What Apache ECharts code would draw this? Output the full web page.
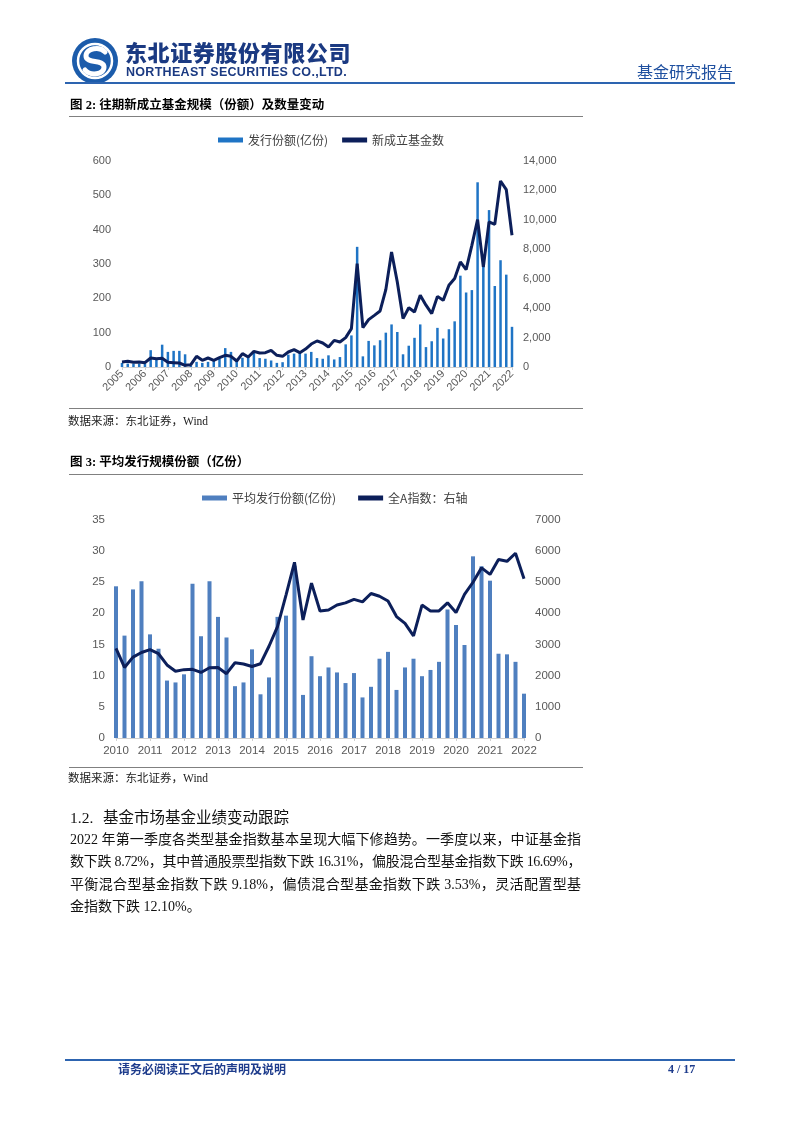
<!DOCTYPE html>
<html><head><meta charset="utf-8">
<script src="https://cdn.jsdelivr.net/npm/echarts@6.0.0/dist/echarts.min.js"></script>
<style>
html,body{margin:0;padding:0;background:#fff;}
#page{position:relative;width:802px;height:1133px;overflow:hidden;background:#fff;}
#chart{position:absolute;left:0;top:0;width:802px;height:1133px;}
.t{position:absolute;white-space:nowrap;font-family:'Liberation Serif','Noto Sans CJK SC',serif;color:#000;}
.ln{position:absolute;}
.p{position:absolute;left:70px;width:511px;font-size:14px;line-height:20px;height:20px;white-space:nowrap;font-family:'Liberation Serif','Noto Sans CJK SC',serif;color:#111;}
.j{text-align:justify;text-align-last:justify;}
</style></head>
<body>
<div id="page">
<div id="chart"></div>

<svg class="ln" style="left:70px;top:37px" width="52" height="50" viewBox="0 0 52 50">
  <circle cx="25" cy="24" r="23" fill="#1c5cab"/>
  <circle cx="25" cy="24" r="17" fill="none" stroke="#fff" stroke-width="2.5"/>
  <path d="M35 15 C30 9,16 11,16 19 C16 27,34 22,34 30 C34 38,20 39,15 33" fill="none" stroke="#fff" stroke-width="5" stroke-linecap="round"/>
</svg>
<div class="t" style="left:125px;top:37px;font-size:22px;line-height:28px;font-weight:900;color:#1b3a82;font-family:'Noto Sans CJK SC',sans-serif;letter-spacing:0.6px;">东北证券股份有限公司</div>
<div class="t" style="left:126px;top:64px;font-size:12.5px;line-height:16px;font-weight:bold;color:#1b3a82;font-family:'Liberation Sans',sans-serif;letter-spacing:0.3px;">NORTHEAST SECURITIES CO.,LTD.</div>
<div class="t" style="left:637px;top:60px;font-size:16px;line-height:22px;color:#1f50a0;font-family:'Noto Sans CJK SC',sans-serif;">基金研究报告</div>
<div class="ln" style="left:65px;top:82px;width:670px;height:1.5px;background:#2d64b0;"></div>

<div class="t" style="left:70px;top:96px;font-size:12.5px;line-height:18px;font-weight:bold;">图 2: 往期新成立基金规模（份额）及数量变动</div>
<div class="ln" style="left:69px;top:116px;width:514px;height:1px;background:#808080;"></div>

<div class="ln" style="left:69px;top:408px;width:514px;height:1px;background:#808080;"></div>
<div class="t" style="left:68px;top:413px;font-size:11.5px;line-height:16px;color:#222;">数据来源：东北证券，Wind</div>

<div class="t" style="left:70px;top:453px;font-size:12.5px;line-height:18px;font-weight:bold;">图 3: 平均发行规模份额（亿份）</div>
<div class="ln" style="left:69px;top:474px;width:514px;height:1px;background:#808080;"></div>

<div class="ln" style="left:69px;top:767px;width:514px;height:1px;background:#808080;"></div>
<div class="t" style="left:68px;top:770px;font-size:11.5px;line-height:16px;color:#222;">数据来源：东北证券，Wind</div>

<div class="t" style="left:70px;top:808px;font-size:15.5px;line-height:20px;color:#111;">1.2.</div>
<div class="t" style="left:103px;top:808px;font-size:15.5px;line-height:20px;color:#111;">基金市场基金业绩变动跟踪</div>
<div class="p j" style="top:830px;">2022 年第一季度各类型基金指数基本呈现大幅下修趋势。一季度以来，中证基金指</div>
<div class="p j" style="top:852px;letter-spacing:-0.45px;">数下跌 8.72%，其中普通股票型指数下跌 16.31%，偏股混合型基金指数下跌 16.69%，</div>
<div class="p j" style="top:875px;">平衡混合型基金指数下跌 9.18%，偏债混合型基金指数下跌 3.53%，灵活配置型基</div>
<div class="p" style="top:897px;">金指数下跌 12.10%。</div>

<div class="ln" style="left:65px;top:1059px;width:670px;height:1.5px;background:#2d64b0;"></div>
<div class="t" style="left:118px;top:1061px;font-size:12px;line-height:16px;font-weight:bold;color:#1e3c8c;font-family:'Noto Sans CJK SC',sans-serif;">请务必阅读正文后的声明及说明</div>
<div class="t" style="left:668px;top:1061px;font-size:12px;line-height:16px;font-weight:bold;color:#1e3c8c;">4 / 17</div>
</div>

<script>
// ---------- Chart 1: quarterly 2005Q1 - 2022Q1 ----------
const years1 = [2005,2006,2007,2008,2009,2010,2011,2012,2013,2014,2015,2016,2017,2018,2019,2020,2021,2022];
const quarters = ['Q1','Q2','Q3','Q4'];
const issueShares = [12,10,10,10,10,49,26,65,44,47,47,37,3,15,12,15,21,24,55,44,16,27,34,44,26,24,19,12,14,36,39,42,39,44,26,24,34,22,29,66,92,350,31,76,63,78,100,124,102,37,62,85,124,58,75,114,83,110,133,266,217,224,538,310,457,236,311,269,117];
const newFundCount = [340,385,317,340,295,612,566,590,317,295,272,113,158,725,453,612,453,634,793,725,408,906,680,1065,951,974,1133,793,725,1019,1178,974,1220,1560,1770,1630,1360,1810,1700,2000,2610,7030,2680,3220,3510,3810,5260,7820,5780,3290,4030,3740,4870,4200,3630,4800,4530,5550,6010,7140,6620,8270,10020,6800,9860,9700,12640,12060,8950];

// ---------- Chart 2: quarterly 2010Q1 - 2022Q1 ----------
const years2 = [2010,2011,2012,2013,2014,2015,2016,2017,2018,2019,2020,2021,2022];
const avgShares = [24.3,16.4,23.8,25.1,16.6,14.3,9.2,8.9,10.2,24.7,16.3,25.1,19.4,16.1,8.3,8.9,14.2,7.0,9.7,19.4,19.6,27.6,6.9,13.1,9.9,11.3,10.5,8.8,10.4,6.5,8.2,12.7,13.8,7.7,11.3,12.7,9.9,10.9,12.2,20.6,18.1,14.9,29.1,27.5,25.2,13.5,13.4,12.2,7.1];
const allAIndex = [2870,2260,2590,2740,2830,2700,2340,2140,2190,2200,2100,2250,2260,2060,2410,2370,2290,2380,2940,3570,4580,5630,3780,4960,4070,4100,4260,4330,4440,4360,4630,4540,4390,3890,3670,3270,4260,4070,4070,4330,4020,4600,4990,5450,5240,5720,5660,5920,5100];

function buildCats(years, n){
  const out = [];
  for (const y of years) for (const q of quarters) { if (out.length < n) out.push(y + q); }
  return out;
}
const cats1 = buildCats(years1, issueShares.length);
const cats2 = buildCats(years2, avgShares.length);

const axisTxt = {color:'#595959', fontSize:11, fontFamily:'Liberation Sans, Arial, sans-serif'};
const legTxt = {color:'#404040', fontSize:12, fontFamily:'Noto Sans CJK SC, sans-serif'};
const barC1 = '#1f74c5', barC2 = '#4f7fbf', lineC = '#0c1f5a';

const chart = echarts.init(document.getElementById('chart'), null, {renderer:'canvas'});
chart.setOption({
  animation:false,
  backgroundColor:'transparent',
  legend:[
    {left:213, top:129, itemWidth:25, itemHeight:5, itemGap:14, textStyle:legTxt,
     data:[{name:'发行份额(亿份)', icon:'rect'},{name:'新成立基金数', icon:'rect'}]},
    {left:197, top:487, itemWidth:25, itemHeight:5, itemGap:22, textStyle:legTxt,
     data:[{name:'平均发行份额(亿份)', icon:'rect'},{name:'全A指数：右轴', icon:'rect'}]}
  ],
  grid:[
    {left:122, top:161, width:390, height:206},
    {left:116, top:519.5, width:408, height:218.5}
  ],
  xAxis:[
    {type:'category', gridIndex:0, data:cats1, boundaryGap:false,
     axisLine:{lineStyle:{color:'#d0d0d0'}},
     axisTick:{show:true, interval:3, length:3, lineStyle:{color:'#d0d0d0'}},
     axisLabel:Object.assign({interval:3, rotate:45, margin:5, formatter:v=>v.slice(0,4)}, axisTxt)},
    {type:'category', gridIndex:1, data:cats2, boundaryGap:false,
     axisLine:{lineStyle:{color:'#d0d0d0'}},
     axisTick:{show:true, interval:3, length:3, lineStyle:{color:'#d0d0d0'}},
     axisLabel:Object.assign({interval:3, margin:7, formatter:v=>v.slice(0,4)}, axisTxt, {fontSize:11.5})}
  ],
  yAxis:[
    {type:'value', gridIndex:0, min:0, max:600, interval:100, splitLine:{show:false},
     axisLine:{show:false}, axisTick:{show:false}, axisLabel:Object.assign({margin:11}, axisTxt)},
    {type:'value', gridIndex:0, min:0, max:14000, interval:2000, splitLine:{show:false},
     axisLine:{show:false}, axisTick:{show:false},
     axisLabel:Object.assign({margin:11, formatter:v=>v.toLocaleString('en-US')}, axisTxt)},
    {type:'value', gridIndex:1, min:0, max:35, interval:5, splitLine:{show:false},
     axisLine:{show:false}, axisTick:{show:false}, axisLabel:Object.assign({margin:11}, axisTxt, {fontSize:11.5})},
    {type:'value', gridIndex:1, min:0, max:7000, interval:1000, splitLine:{show:false},
     axisLine:{show:false}, axisTick:{show:false},
     axisLabel:Object.assign({margin:11, formatter:v=>String(v)}, axisTxt, {fontSize:11.5})}
  ],
  series:[
    {name:'发行份额(亿份)', type:'bar', xAxisIndex:0, yAxisIndex:0, data:issueShares, barWidth:2.5,
     itemStyle:{color:barC1}},
    {name:'新成立基金数', type:'line', xAxisIndex:0, yAxisIndex:1, data:newFundCount, symbol:'none',
     lineStyle:{color:lineC, width:3}, itemStyle:{color:lineC}, z:3},
    {name:'平均发行份额(亿份)', type:'bar', xAxisIndex:1, yAxisIndex:2, data:avgShares, barWidth:4,
     itemStyle:{color:barC2}},
    {name:'全A指数：右轴', type:'line', xAxisIndex:1, yAxisIndex:3, data:allAIndex, symbol:'none',
     lineStyle:{color:lineC, width:3}, itemStyle:{color:lineC}, z:3}
  ]
});
</script>
</body></html>
